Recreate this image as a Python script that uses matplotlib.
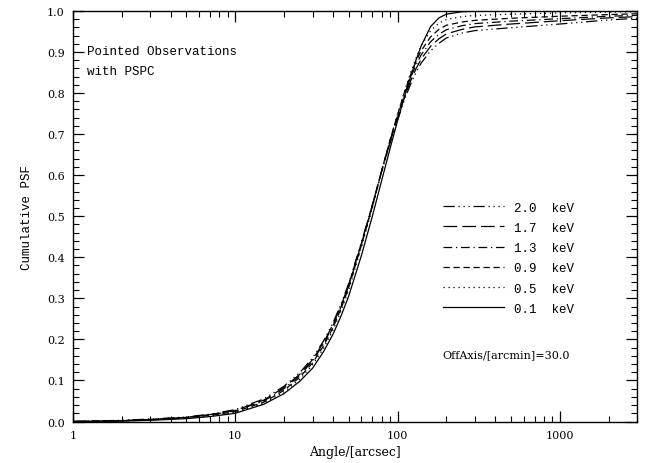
import numpy as np
import matplotlib
matplotlib.use("Agg")
from matplotlib import pyplot as plt
from matplotlib.ticker import FixedLocator, NullFormatter, MultipleLocator

angle = [1, 2, 3, 5, 7, 10, 15, 20, 25, 30, 35, 40, 45, 50, 60, 70, 80, 90, 100,
         110, 120, 130, 140, 160, 180, 200, 250, 300, 500, 1000, 2000, 3000]

# cumulative PSF per energy
psf_01 = [0.0, 0.001, 0.003, 0.007, 0.012, 0.020, 0.042, 0.068, 0.098, 0.130, 0.170, 0.212,
          0.258, 0.305, 0.405, 0.500, 0.588, 0.665, 0.732, 0.789, 0.838, 0.880, 0.915, 0.962,
          0.983, 0.992, 0.998, 0.999, 1.0, 1.0, 1.0, 1.0]
psf_05 = [0.0, 0.002, 0.004, 0.008, 0.014, 0.022, 0.044, 0.072, 0.103, 0.138, 0.178, 0.222,
          0.270, 0.320, 0.425, 0.520, 0.610, 0.685, 0.748, 0.802, 0.848, 0.885, 0.915, 0.952,
          0.970, 0.979, 0.986, 0.989, 0.992, 0.995, 0.997, 0.998]
psf_09 = [0.0, 0.002, 0.004, 0.009, 0.015, 0.024, 0.047, 0.076, 0.108, 0.143, 0.184, 0.228,
          0.276, 0.326, 0.430, 0.524, 0.612, 0.686, 0.747, 0.800, 0.843, 0.877, 0.903, 0.937,
          0.955, 0.965, 0.973, 0.977, 0.982, 0.987, 0.991, 0.993]
psf_13 = [0.0, 0.002, 0.005, 0.010, 0.016, 0.026, 0.050, 0.080, 0.112, 0.148, 0.189, 0.233,
          0.280, 0.330, 0.433, 0.526, 0.612, 0.684, 0.744, 0.795, 0.836, 0.868, 0.893, 0.925,
          0.943, 0.954, 0.964, 0.969, 0.975, 0.981, 0.987, 0.989]
psf_17 = [0.0, 0.002, 0.005, 0.010, 0.017, 0.027, 0.052, 0.083, 0.115, 0.151, 0.192, 0.236,
          0.283, 0.333, 0.435, 0.527, 0.611, 0.681, 0.739, 0.788, 0.828, 0.859, 0.883, 0.914,
          0.932, 0.944, 0.955, 0.961, 0.968, 0.976, 0.983, 0.986]
psf_20 = [0.0, 0.003, 0.006, 0.011, 0.018, 0.029, 0.055, 0.086, 0.119, 0.155, 0.196, 0.240,
          0.287, 0.336, 0.437, 0.528, 0.610, 0.678, 0.734, 0.782, 0.820, 0.850, 0.873, 0.903,
          0.921, 0.934, 0.946, 0.952, 0.959, 0.968, 0.978, 0.982]

labels = ["2.0  keV", "1.7  keV", "1.3  keV", "0.9  keV", "0.5  keV", "0.1  keV"]
curves = [psf_20, psf_17, psf_13, psf_09, psf_05, psf_01]
styles = [(0, (9, 3, 1, 3, 1, 3, 1, 3)), (0, (11, 4)), (0, (7, 3, 1, 3)),
          (0, (5, 3)), (0, (1, 3)), "-"]

serif = "DejaVu Serif"
mono = "Liberation Mono"

fig = plt.figure(figsize=(6.45, 4.64), dpi=100)
ax = fig.add_axes([0.113, 0.0894, 0.875, 0.885])

for y, lab, ls in zip(curves, labels, styles):
    ax.plot(angle, y, color="black", lw=0.9, linestyle=ls, label=lab)

ax.set_xscale("log")
ax.set_xlim(1, 3000)
ax.set_ylim(0, 1)

ax.xaxis.set_major_locator(FixedLocator([1, 10, 100, 1000]))
ax.xaxis.set_major_formatter(matplotlib.ticker.FixedFormatter(["1", "10", "100", "1000"]))
minors = [m * d for d in (1, 10, 100, 1000) for m in range(2, 10) if m * d <= 3000]
ax.xaxis.set_minor_locator(FixedLocator(minors))
ax.xaxis.set_minor_formatter(NullFormatter())
ax.yaxis.set_major_locator(MultipleLocator(0.1))
ax.yaxis.set_minor_locator(MultipleLocator(0.02))
ax.yaxis.set_major_formatter(matplotlib.ticker.FormatStrFormatter("%.1f"))

ax.tick_params(which="both", direction="in", top=True, right=True, colors="black")
ax.tick_params(which="major", length=8, width=0.9, labelsize=8, pad=6)
ax.tick_params(which="minor", length=4, width=0.8)
for lab in ax.get_xticklabels() + ax.get_yticklabels():
    lab.set_family(serif)
for s in ax.spines.values():
    s.set_linewidth(1.0)

ax.set_xlabel("Angle/[arcsec]", family=serif, fontsize=9)
ax.set_ylabel("Cumulative PSF", family=mono, fontsize=9, labelpad=10)

ax.text(0.025, 0.903, "Pointed Observations", transform=ax.transAxes,
        family=mono, fontsize=9, va="center")
ax.text(0.025, 0.854, "with PSPC", transform=ax.transAxes,
        family=mono, fontsize=9, va="center")
ax.text(0.654, 0.164, "OffAxis/[arcmin]=30.0", transform=ax.transAxes,
        family=serif, fontsize=8, va="center")

leg = ax.legend(loc="upper left", bbox_to_anchor=(0.635, 0.563), frameon=False,
                handlelength=4.9, handletextpad=0.8, labelspacing=0.66,
                prop={"family": mono, "size": 9})

fig.savefig("out.png", dpi=100)
